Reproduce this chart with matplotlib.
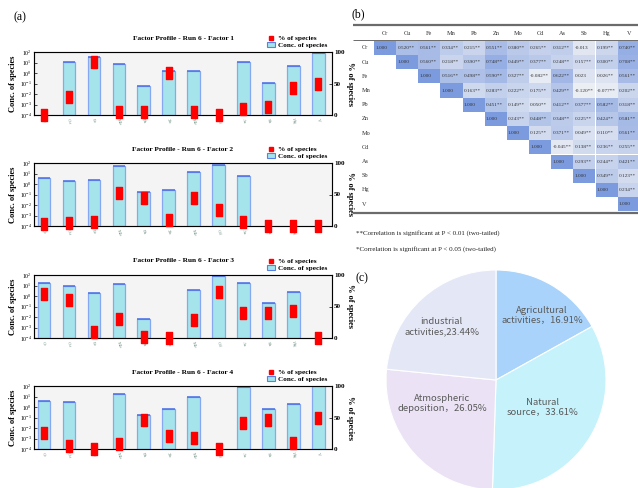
import numpy as np
import matplotlib
matplotlib.use("Agg")
import matplotlib.pyplot as plt
from matplotlib.path import Path
from matplotlib.lines import Line2D
from matplotlib.patches import Patch, Rectangle
from matplotlib.colors import LinearSegmentedColormap
from matplotlib.ticker import LogLocator, LogFormatterSciNotation, NullLocator

plt.rcParams['mathtext.fontset'] = 'stix'
plt.rcParams['font.family'] = ['Liberation Serif', 'DejaVu Serif']

# ---------------- data ----------------
elements = ['Cr', 'Cu', 'Fe', 'Mn', 'Pb', 'Zn', 'Mo', 'Cd', 'As', 'Sb', 'Hg', 'V']
nan = np.nan
conc_f1 = [nan, 11, 34, 7.2, 0.056, 1.65, 1.65, nan, 12, 0.12, 5.0, 80]
pct_f1 = [0, 28, 84, 5, 4, 66, 4, 0, 10, 12, 43, 50]
conc_f2 = [3.5, 1.8, 2.3, 55, 0.19, 0.25, 12.5, 68, 5.5, nan, nan, nan]
pct_f2 = [3, 5, 6, 53, 44, 10, 45, 26, 6, 0, 0, 0]
conc_f3 = [18, 10, 2.0, 13, 0.0065, nan, 4.0, 80, 18, 0.24, 2.4, nan]
pct_f3 = [70, 60, 10, 30, 2, 0, 29, 73, 39, 40, 43, 0]
conc_f4 = [3.6, 2.7, nan, 16.6, 0.19, 0.7, 9.3, nan, 75, 0.64, 1.9, 93]
pct_f4 = [26, 5, 0, 8, 46, 20, 18, 0, 42, 46, 10, 49]
factor_titles = ['Factor Profile - Run 6 - Factor 1', 'Factor Profile - Run 6 - Factor 2',
                 'Factor Profile - Run 6 - Factor 3', 'Factor Profile - Run 6 - Factor 4']

corr_rows = [
    ['1.000', '0.520**', '0.561**', '0.334**', '0.215**', '0.551**', '0.380**', '0.265**', '0.312**', '-0.013', '0.199**', '0.740**'],
    ['1.000', '0.560**', '0.218**', '0.390**', '0.748**', '0.449**', '0.377**', '0.248**', '0.157**', '0.300**', '0.708**'],
    ['1.000', '0.516**', '0.498**', '0.590**', '0.327**', '-0.082**', '0.622**', '0.023', '0.026**', '0.561**'],
    ['1.000', '0.163**', '0.283**', '0.222**', '0.175**', '0.429**', '-0.120**', '-0.077**', '0.202**'],
    ['1.000', '0.451**', '0.149**', '0.050**', '0.412**', '0.377**', '0.582**', '0.318**'],
    ['1.000', '0.243**', '0.448**', '0.348**', '0.225**', '0.424**', '0.581**'],
    ['1.000', '0.125**', '0.371**', '0.049**', '0.110**', '0.561**'],
    ['1.000', '-0.045**', '0.138**', '0.236**', '0.255**'],
    ['1.000', '0.293**', '0.244**', '0.421**'],
    ['1.000', '0.349**', '0.123**'],
    ['1.000', '0.234**'],
    ['1.000'],
]
footnotes = ['**Correlation is significant at P < 0.01 (two-tailed)',
             '*Correlation is significant at P < 0.05 (two-tailed)']

pie_values = [16.91, 33.61, 26.05, 23.44]
pie_labels = ['Agricultural\nactivities，16.91%', 'Natural\nsource，33.61%',
              'Atmospheric\ndeposition，26.05%', 'industrial\nactivities,23.44%']
pie_colors = ['#a9d3fa', '#c6f2fb', '#ebe3f5', '#e4e7f6']

# ---------------- figure ----------------
W, H = 638, 488
fig = plt.figure(figsize=(W / 100, H / 100), dpi=100)


def box(l, t, r, b):
    return [l / W, 1 - b / H, (r - l) / W, (b - t) / H]


rect_marker = Path([(-0.62, -1), (0.62, -1), (0.62, 1), (-0.62, 1), (-0.62, -1)],
                   [Path.MOVETO, Path.LINETO, Path.LINETO, Path.LINETO, Path.CLOSEPOLY])

concs = [conc_f1, conc_f2, conc_f3, conc_f4]
pcts = [pct_f1, pct_f2, pct_f3, pct_f4]
tops = [52, 163, 275, 386]
x = np.arange(len(elements))
for k in range(4):
    ax = fig.add_axes(box(34, tops[k], 332, tops[k] + 63))
    ax.set_facecolor('#f4f4f4')
    ax.set_yscale('log')
    ax.set_ylim(1e-4, 1e2)
    ax.set_xlim(-0.4, 11.55)
    c = np.array(concs[k], dtype=float)
    ax.bar(x, c - 1e-4, bottom=1e-4, width=0.5, color='#a6e4ec',
           edgecolor='#86a8f2', linewidth=0.9, zorder=2)
    ok = ~np.isnan(c)
    ax.hlines(c[ok], x[ok] - 0.25, x[ok] + 0.25, color='#4a6ee6', lw=1.1, zorder=3)
    ax.yaxis.set_major_locator(LogLocator(base=10, numticks=10))
    ax.yaxis.set_minor_locator(NullLocator())
    ax.yaxis.set_major_formatter(LogFormatterSciNotation())
    ax.tick_params(axis='y', labelsize=4.2, direction='in', length=2, width=0.5, pad=1.5)
    ax.set_xticks(x)
    ax.set_xticklabels(elements, rotation=-70, fontsize=3.5, color='#6e8f80')
    ax.tick_params(axis='x', direction='in', length=2.5, width=0.6, pad=2)
    for s in ax.spines.values():
        s.set_color('#8a8a8a')
        s.set_linewidth(0.8)
    ax.set_ylabel('Conc. of species', fontsize=6, fontweight='bold', labelpad=2)
    ax.set_title(factor_titles[k], fontsize=5.3, fontweight='bold', pad=9)
    ax2 = ax.twinx()
    ax2.plot(x, pcts[k], ls='none', marker=rect_marker, ms=8, color='#ff0000',
             clip_on=False, zorder=5)
    ax2.set_ylim(0, 100)
    ax2.set_yticks([0, 50, 100])
    ax2.tick_params(axis='y', labelsize=5, direction='in', length=2, width=0.5, pad=1.5)
    for lab in ax2.get_yticklabels():
        lab.set_fontweight('bold')
    ax2.set_ylabel('% of species', fontsize=6, fontweight='bold', rotation=270, labelpad=7)
    handles = [Line2D([], [], ls='none', marker='s', ms=3.5, color='#ff0000'),
               Patch(facecolor='#a6e4ec', edgecolor='#5a7fe8', linewidth=0.8)]
    ax.legend(handles, ['% of species', 'Conc. of species'], loc='lower right',
              bbox_to_anchor=(1.0, 0.99), frameon=False,
              prop={'size': 5.2, 'weight': 'bold'}, handlelength=1.2, handleheight=0.7,
              handletextpad=0.4, borderpad=0.1, labelspacing=0.15)

fig.text(13 / W, 1 - 17 / H, '(a)', fontsize=8.5, va='center', ha='left')
fig.text(352 / W, 1 - 14 / H, '(b)', fontsize=8.5, va='center', ha='left')
fig.text(356 / W, 1 - 278 / H, '(c)', fontsize=8.5, va='center', ha='left')

# ---------------- table ----------------
# column j spans [j, j+1] ; row i centred at i
tax = fig.add_axes(box(353, 20, 638, 222))
col_w, x0 = 22.15, 374
row_h, y0 = 14.2, 48
tax.set_xlim((353 - x0) / col_w, (638 - x0) / col_w)
tax.set_ylim((222 - y0) / row_h, (20 - y0) / row_h)
tax.axis('off')
cmap = LinearSegmentedColormap.from_list('tb', ['#eef0f4', '#7c9bde'])
for i, row in enumerate(corr_rows):
    for jj, s in enumerate(row):
        j = i + jj
        v = float(s.replace('*', ''))
        frac = (v + 0.15) / 1.15
        tax.add_patch(Rectangle((j, i - 0.5), 1, 1, facecolor=cmap(frac), edgecolor='none'))
        tax.text(j + 0.05, i, s, fontsize=3.8, ha='left', va='center', color='#333333')
for j, e in enumerate(elements):
    tax.text(j + 0.5, -1, e, fontsize=4.5, ha='center', va='center', color='#333333')
    tax.text((362 - x0) / col_w, j, e, fontsize=4.5, ha='left', va='center', color='#333333')
xl = tax.get_xlim()
tax.plot(xl, [-1.62, -1.62], color='#6b6b6b', lw=1.6, solid_capstyle='butt')
tax.plot(xl, [-0.53, -0.53], color='#6b6b6b', lw=0.7, solid_capstyle='butt')
tax.plot(xl, [11.62, 11.62], color='#6b6b6b', lw=1.6, solid_capstyle='butt')

for r, t in enumerate(footnotes):
    fig.text(356 / W, 1 - (233 + 16 * r) / H, t, fontsize=5, va='center', ha='left', color='#222222')

# ---------------- pie ----------------
pax = fig.add_axes(box(386, 270, 606, 490))
wedges, _ = pax.pie(pie_values, colors=pie_colors, startangle=90, counterclock=False,
                    wedgeprops=dict(edgecolor='white', linewidth=0.8))
pax.set_xlim(-1, 1)
pax.set_ylim(-1, 1)
pax.set_aspect('equal')
label_r = [0.72, 0.49, 0.53, 0.69]
label_shift = [-5, 0.7, -17.9, 3.4]
for w, lab, r, sh in zip(wedges, pie_labels, label_r, label_shift):
    mid = np.deg2rad((w.theta1 + w.theta2) / 2 + sh)
    pax.text(r * np.cos(mid), r * np.sin(mid), lab, ha='center', va='center',
             fontsize=6.8, color='#595959', linespacing=1.15,
             family=['Noto Sans CJK SC', 'DejaVu Sans'])

fig.savefig('out.png', dpi=100)
